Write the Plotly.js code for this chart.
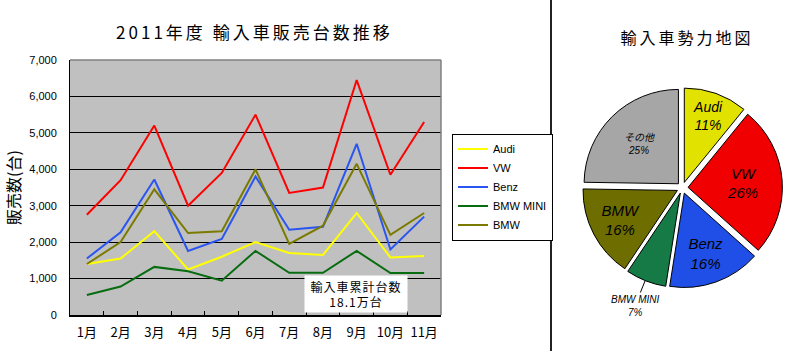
<!DOCTYPE html>
<html>
<head>
<meta charset="utf-8">
<script src="https://cdn.plot.ly/plotly-3.0.1.min.js"></script>
<style>
html, body { margin: 0; padding: 0; background: #fff; }
#chart { width: 800px; height: 351px; }
.gtitle { letter-spacing: 3px; }
.annotation[data-index="0"] .annotation-text { letter-spacing: 1px; }
.annotation[data-index="1"] .annotation-text { letter-spacing: 3px; }
</style>
</head>
<body>
<div id="chart"></div>
<script>
// ---- Line chart data ----
const months = ['1月','2月','3月','4月','5月','6月','7月','8月','9月','10月','11月'];
const audi    = [1400, 1550, 2300, 1250, 1600, 2000, 1700, 1650, 2800, 1580, 1620];
const vw      = [2750, 3700, 5200, 3000, 3900, 5500, 3350, 3500, 6450, 3850, 5300];
const benz    = [1550, 2270, 3720, 1760, 2090, 3800, 2340, 2420, 4700, 1800, 2700];
const bmwMini = [550, 780, 1320, 1200, 940, 1760, 1160, 1160, 1760, 1150, 1150];
const bmw     = [1400, 2000, 3450, 2250, 2300, 4000, 1950, 2450, 4150, 2200, 2800];
const seriesNames  = ['Audi', 'VW', 'Benz', 'BMW MINI', 'BMW'];
const seriesColors = ['#ffff00', '#ff0000', '#2a55f0', '#086c10', '#7a7a00'];

// ---- Pie data ----
const pieLabels = ['Audi', 'VW', 'Benz', 'BMW MINI', 'BMW', 'その他'];
const pieValues = [11, 26, 16, 7, 16, 25];
const pieColors = ['#e2e200', '#f00000', '#1f4fe6', '#157a45', '#6e6e00', '#a6a6a6'];

const cjk = '"Noto Sans CJK JP", "Liberation Sans", sans-serif';
const arial = '"Liberation Sans", Arial, "Noto Sans CJK JP", sans-serif';

const allSeries = [audi, vw, benz, bmwMini, bmw];
const traces = allSeries.map((ys, i) => ({
  type: 'scatter',
  mode: 'lines',
  x: months,
  y: ys,
  name: seriesNames[i],
  line: { color: seriesColors[i], width: 2 },
  xaxis: 'x', yaxis: 'y'
}));

traces.push({
  type: 'pie',
  labels: pieLabels,
  values: pieValues,
  sort: false,
  direction: 'clockwise',
  rotation: 0,
  pull: [0.06, 0.06, 0.06, 0.06, 0.06, 0.06],
  marker: { colors: pieColors, line: { color: '#000', width: 1 } },
  texttemplate: '%{label}<br>%{value}%',
  textposition: ['inside', 'inside', 'inside', 'none', 'inside', 'inside'],
  insidetextorientation: 'horizontal',
  textfont: { family: arial, style: 'italic', color: '#000', size: [14, 15, 15, 10, 15, 10] },
  domain: { x: [0.728, 0.978], y: [0.175, 0.755] },
  showlegend: false,
  hoverinfo: 'none'
});

const layout = {
  width: 800, height: 351,
  margin: { l: 0, r: 0, t: 0, b: 0 },
  paper_bgcolor: '#ffffff',
  plot_bgcolor: '#c0c0c0',
  font: { family: arial, size: 11, color: '#000' },
  title: {
    text: '2011年度 輸入車販売台数推移',
    font: { family: cjk, size: 17, color: '#000' },
    x: 0.318, xanchor: 'center',
    y: 1 - 33 / 351, yanchor: 'middle'
  },
  xaxis: {
    domain: [70 / 800, 441 / 800],
    type: 'category',
    range: [-0.5, 10.5],
    showline: true, linecolor: '#000', linewidth: 1.5,
    ticks: 'inside', tickson: 'boundaries', ticklen: 4, tickcolor: '#000', tickwidth: 1,
    showgrid: false, zeroline: false,
    tickangle: 0,
    tickfont: { family: cjk, size: 13, color: '#000' },
    ticklabelstandoff: 5,
    fixedrange: true
  },
  yaxis: {
    domain: [1 - 315 / 351, 1 - 60 / 351],
    range: [0, 7000],
    dtick: 1000,
    tickformat: ',d',
    showline: true, linecolor: '#000', linewidth: 1,
    showgrid: true, gridcolor: '#000', gridwidth: 1,
    zeroline: false,
    ticks: '',
    tickfont: { family: arial, size: 11, color: '#000' },
    ticklabelstandoff: 10,
    title: { text: '販売数(台)', font: { family: cjk, size: 16, color: '#000' }, standoff: 4 },
    fixedrange: true
  },
  legend: {
    x: 452 / 800, xanchor: 'left',
    y: 1 - 187 / 351, yanchor: 'middle',
    bgcolor: '#ffffff', bordercolor: '#000', borderwidth: 1,
    font: { family: arial, size: 11, color: '#000' },
    itemwidth: 30,
    tracegroupgap: 0
  },
  shapes: [
    { type: 'line', xref: 'paper', yref: 'paper', x0: 70 / 800, x1: 441 / 800, y0: 1 - 60 / 351, y1: 1 - 60 / 351, line: { color: '#808080', width: 1.5 } },
    { type: 'line', xref: 'paper', yref: 'paper', x0: 441 / 800, x1: 441 / 800, y0: 1 - 60 / 351, y1: 1 - 315 / 351, line: { color: '#808080', width: 1.5 } },
    { type: 'line', xref: 'paper', yref: 'paper', x0: 551 / 800, x1: 551 / 800, y0: 0, y1: 1, line: { color: '#222', width: 2 } }
  ],
  annotations: [
    {
      xref: 'paper', yref: 'paper',
      x: 356 / 800, y: 1 - 293.5 / 351, xanchor: 'center', yanchor: 'middle',
      text: '輸入車累計台数<br>18.1万台',
      showarrow: false,
      bgcolor: '#ffffff',
      width: 100, height: 34,
      font: { family: cjk, size: 12, color: '#000' }
    },
    {
      xref: 'paper', yref: 'paper',
      x: 687 / 800, y: 1 - 37 / 351, xanchor: 'center', yanchor: 'middle',
      text: '輸入車勢力地図',
      showarrow: false,
      font: { family: cjk, size: 16, color: '#000' }
    },
    {
      xref: 'paper', yref: 'paper',
      x: 645 / 800, y: 1 - 281 / 351,
      ax: -10, ay: 25,
      showarrow: true, arrowhead: 0, arrowwidth: 1, arrowcolor: '#000',
      text: pieLabels[3] + '<br>' + pieValues[3] + '%',
      font: { family: arial, style: 'italic', size: 10, color: '#000' }
    }
  ]
};

Plotly.newPlot('chart', traces, layout, { displayModeBar: false, staticPlot: true });
</script>
</body>
</html>
